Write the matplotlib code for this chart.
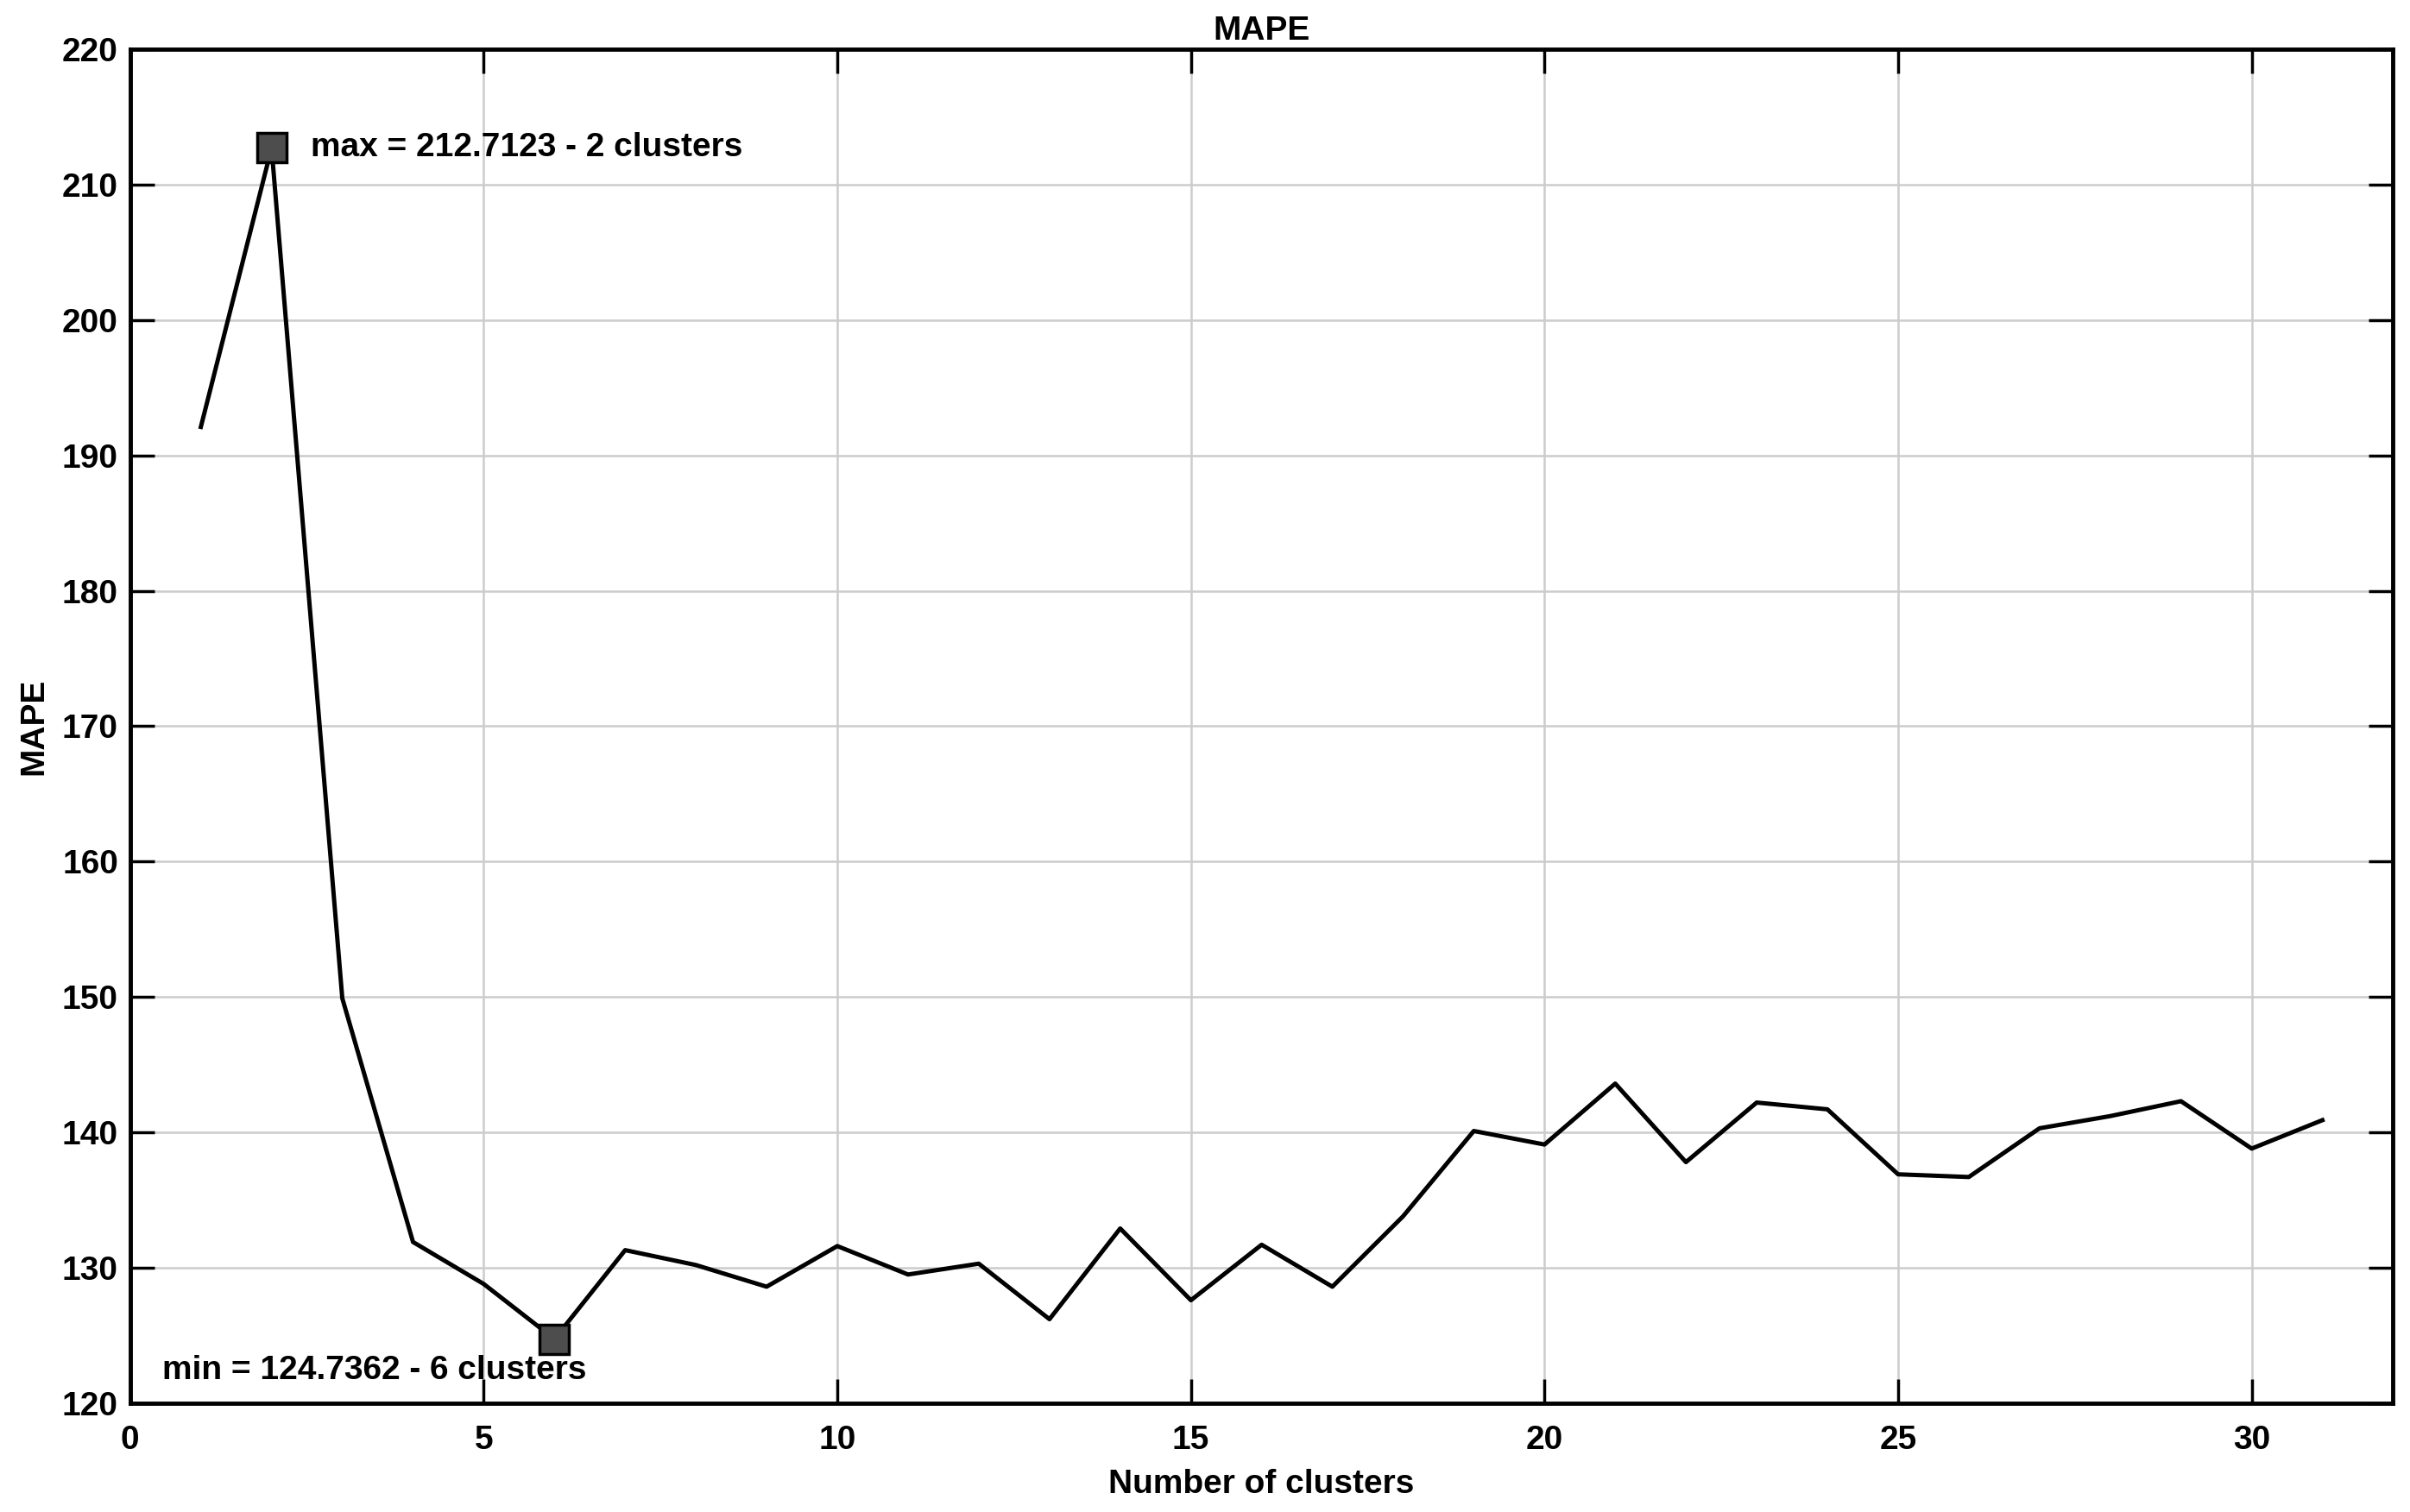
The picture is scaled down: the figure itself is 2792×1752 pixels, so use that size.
import matplotlib
matplotlib.use("Agg")
import matplotlib.pyplot as plt

clusters = list(range(1, 32))
mape = [192.1, 212.7123, 149.9, 131.9, 128.8, 124.7362, 131.3, 130.2, 128.6, 131.6,
        129.5, 130.3, 126.2, 132.9, 127.6, 131.7, 128.6, 133.8, 140.1, 139.1,
        143.6, 137.8, 142.2, 141.7, 136.9, 136.7, 140.3, 141.2, 142.3, 138.8, 140.9]
max_label = "max = 212.7123 - 2 clusters"
min_label = "min = 124.7362 - 6 clusters"
xticks = [0, 5, 10, 15, 20, 25, 30]
yticks = [120, 130, 140, 150, 160, 170, 180, 190, 200, 210, 220]

plt.rcParams['font.family'] = ['Liberation Sans', 'DejaVu Sans']
plt.rcParams['font.weight'] = 'bold'

FS = 28
fig = plt.figure(figsize=(27.92, 17.52), dpi=100)
ax = fig.add_axes([0.054, 0.072, 0.939, 0.8955])

ax.plot(clusters, mape, color='black', lw=3.6, zorder=3)
imax = mape.index(max(mape))
imin = mape.index(min(mape))
ax.plot([clusters[imax], clusters[imin]], [mape[imax], mape[imin]], ls='none',
        marker='s', markersize=24, markerfacecolor='#4d4d4d', markeredgecolor='black',
        markeredgewidth=2.5, zorder=4)
ax.text(clusters[imax] + 0.55, mape[imax], max_label, fontsize=FS, fontweight='bold',
        va='center', ha='left')
ax.text(0.45, mape[imin] - 2.3, min_label, fontsize=FS, fontweight='bold',
        va='center', ha='left')

ax.set_xlim(0, 32)
ax.set_ylim(120, 220)
ax.set_xticks(xticks)
ax.set_yticks(yticks)
ax.tick_params(direction='in', length=20, width=2.5, labelsize=FS, top=True, right=True)
ax.tick_params(axis='x', pad=18)
ax.tick_params(axis='y', pad=10)
for lab in ax.get_xticklabels() + ax.get_yticklabels():
    lab.set_fontweight('bold')
ax.grid(True, color='#cccccc', lw=1.8)
ax.set_axisbelow(True)
for s in ax.spines.values():
    s.set_linewidth(3.5)

ax.set_title("MAPE", fontsize=FS, fontweight='bold', pad=8)
ax.set_xlabel("Number of clusters", fontsize=FS, fontweight='bold', labelpad=11)
ax.set_ylabel("MAPE", fontsize=FS, fontweight='bold', labelpad=10)

fig.savefig("out.png", dpi=100)
